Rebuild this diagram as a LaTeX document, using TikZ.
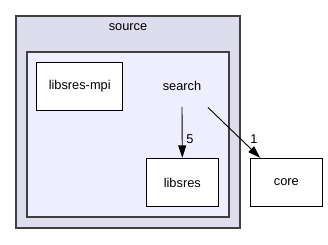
\documentclass[tikz,border=0pt]{standalone}
\usepackage{fontspec}
\setmainfont{Liberation Sans}
\usetikzlibrary{arrows.meta,calc}
\begin{document}
\begin{tikzpicture}[x=1pt,y=-1pt,
  every node/.style={font=\fontsize{12.8}{14}\selectfont, inner sep=0pt},
  cluster/.style={draw=black!75, line width=1.4pt},
  dirbox/.style={draw=black, fill=white, line width=0.9pt},
  dep/.style={draw=black, line width=0.9pt, -{Triangle[length=12.5pt,width=8pt]}},
  deplabel/.style={font=\fontsize{12.8}{14}\selectfont}]
  \useasboundingbox (0,0) rectangle (328,244);
  % enclosing directory clusters
  \filldraw[cluster, fill={rgb,255:red,221;green,221;blue,238}] (16,16) rectangle (240,228);
  \node (source) at (128,27.5) {source};
  \filldraw[cluster, fill={rgb,255:red,238;green,238;blue,255}] (27,52) rectangle (229,217);
  \node (search) at (182,86) {search};
  % subdirectories and dependencies
  \node[dirbox, minimum width=86pt, minimum height=48pt] (mpi) at (79.7,86.3) {libsres-mpi};
  \node[dirbox, minimum width=72.7pt, minimum height=48.4pt] (libsres) at (182.3,182.5) {libsres};
  \node[dirbox, minimum width=72.7pt, minimum height=48.4pt] (core) at (286.3,182.5) {core};
  \draw[dep] ($(search.south)+(0,16)$) -- (libsres.north);
  \node[deplabel] (five) at (190,139.5) {5};
  \draw[dep] ($(search.south east)+(6.5,16.5)$) -- ($(core.north west)+(10.7,0)$);
  \node[deplabel] (one) at (254,139.5) {1};
\end{tikzpicture}
\end{document}
